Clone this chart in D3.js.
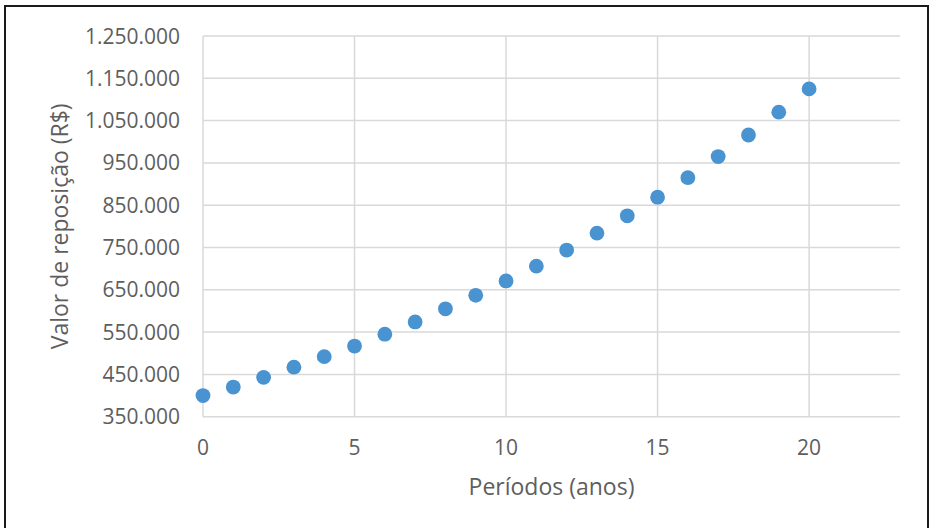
<!DOCTYPE html>
<html>
<head>
<meta charset="utf-8">
<script src="https://cdn.jsdelivr.net/npm/d3@7"></script>
<style>
  html, body { margin: 0; padding: 0; background: #fff; }
  svg { display: block; }
  text { font-family: "Open Sans", "Noto Sans", sans-serif; fill: #5e5e5e; }
</style>
</head>
<body>
<svg id="chart" width="931" height="528"></svg>
<script>
// Replacement value per period (R$)
const periods = [0, 1, 2, 3, 4, 5, 6, 7, 8, 9, 10, 11, 12, 13, 14, 15, 16, 17, 18, 19, 20];
const replacementValues = [
  400000, 420000, 443000, 467000, 492000, 517000, 545000, 574000, 605000, 637000,
  671000, 706000, 744000, 784000, 825000, 869000, 915000, 965000, 1016000, 1070000, 1125000
];
const xTicks = [0, 5, 10, 15, 20];
const yTicks = [350000, 450000, 550000, 650000, 750000, 850000, 950000, 1050000, 1150000, 1250000];
const xTitle = "Períodos (anos)";
const yTitle = "Valor de reposição (R$)";

const ptBR = d3.formatLocale({ decimal: ",", thousands: ".", grouping: [3], currency: ["R$", ""] });
const fmt = ptBR.format(",.0f");

const svg = d3.select("#chart");

// Outer frame
svg.append("rect")
  .attr("x", 5).attr("y", 6)
  .attr("width", 923).attr("height", 540)
  .attr("fill", "none").attr("stroke", "#1a1a1a").attr("stroke-width", 2);

const x = d3.scaleLinear().domain([0, 23]).range([203, 900]);
const y = d3.scaleLinear().domain([350000, 1250000]).range([416.7, 36]);

// Horizontal gridlines
svg.append("g").selectAll("line").data(yTicks).join("line")
  .attr("x1", x(0)).attr("x2", x(23))
  .attr("y1", d => y(d)).attr("y2", d => y(d))
  .attr("stroke", "#d9d9d9").attr("stroke-width", 1.5);

// Vertical gridlines
svg.append("g").selectAll("line").data(xTicks).join("line")
  .attr("x1", d => x(d)).attr("x2", d => x(d))
  .attr("y1", y(350000)).attr("y2", y(1250000))
  .attr("stroke", "#d9d9d9").attr("stroke-width", 1.5);

// Y tick labels
svg.append("g").selectAll("text").data(yTicks).join("text")
  .attr("x", 180).attr("y", d => y(d)).attr("dy", "0.36em")
  .attr("text-anchor", "end").attr("font-size", 21)
  .text(d => fmt(d));

// X tick labels
svg.append("g").selectAll("text").data(xTicks).join("text")
  .attr("x", d => x(d)).attr("y", 455)
  .attr("text-anchor", "middle").attr("font-size", 21)
  .text(d => d);

// Axis titles
svg.append("text")
  .attr("x", (x(0) + x(23)) / 2).attr("y", 495)
  .attr("text-anchor", "middle").attr("font-size", 23)
  .text(xTitle);

svg.append("text")
  .attr("transform", `translate(68,${(y(350000) + y(1250000)) / 2}) rotate(-90)`)
  .attr("text-anchor", "middle").attr("font-size", 23)
  .text(yTitle);

// Markers
svg.append("g").selectAll("circle").data(periods).join("circle")
  .attr("cx", (d) => x(d))
  .attr("cy", (d, i) => y(replacementValues[i]))
  .attr("r", 7.4)
  .attr("fill", "#4a93d1");
</script>
</body>
</html>
